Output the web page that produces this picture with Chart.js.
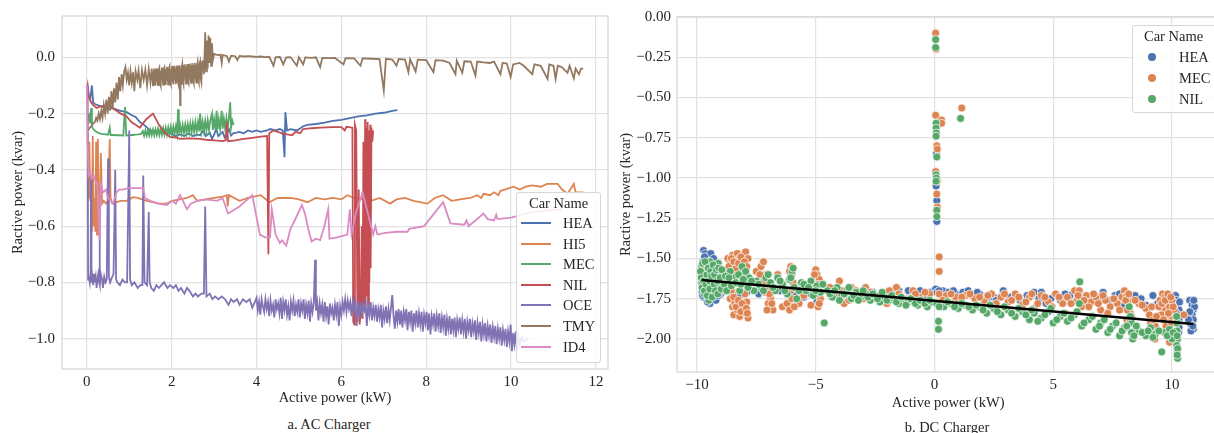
<!DOCTYPE html>
<html><head><meta charset="utf-8">
<script src="https://cdn.jsdelivr.net/npm/chart.js@4/dist/chart.umd.min.js"></script>
<style>
html,body{margin:0;padding:0;background:#fff;width:1214px;height:433px;overflow:hidden;position:relative;font-family:"Liberation Serif","Times New Roman",serif;color:#262626}
#c1{position:absolute;left:0;top:0}
#c2{position:absolute;left:610px;top:0}
.cap{position:absolute;font-size:14.5px;white-space:nowrap;transform:translate(-50%,-50%);line-height:1}
.leg{position:absolute;background:rgba(255,255,255,0.85);border:1px solid #d6d6d6;border-radius:3px;box-sizing:border-box}
.lt{position:absolute;font-size:14.5px;white-space:nowrap;line-height:1;transform:translateY(-50%)}
.ls{position:absolute;height:2px;width:30px;transform:translateY(-50%)}
.lm{position:absolute;width:8px;height:8px;border-radius:50%;transform:translate(-50%,-50%)}
</style></head><body>
<canvas id="c1" width="612" height="410"></canvas>
<canvas id="c2" width="614" height="415"></canvas>
<div id="ov"></div>
<script>
// ---------- AC charger (left) ----------
const acNames = ['HEA','HI5','MEC','NIL','OCE','TMY','ID4'];
const acColors = ['#4C72B0','#DD8452','#55A868','#C44E52','#8172B3','#937860','#DA8BC3'];
const acXTicks = [0,2,4,6,8,10,12];
const acYTicks = [0.0,-0.2,-0.4,-0.6,-0.8,-1.0];

const acHEA = [[0.03,-0.13],[0.08,-0.15],[0.12,-0.1],[0.15,-0.16],[0.2,-0.167],[0.3,-0.172],[0.4,-0.178],[0.5,-0.183],[0.6,-0.18],[0.7,-0.186],[0.8,-0.19],[0.94,-0.195],[1.05,-0.205],[1.15,-0.212],[1.25,-0.23],[1.35,-0.24],[1.49,-0.26],[1.6,-0.262],[1.7,-0.265],[1.8,-0.27],[1.89,-0.266],[2.0,-0.272],[2.1,-0.28],[2.2,-0.274],[2.3,-0.28],[2.4,-0.27],[2.5,-0.28],[2.6,-0.275],[2.67,-0.277],[2.75,-0.26],[2.8,-0.28],[2.9,-0.268],[2.95,-0.29],[3.0,-0.275],[3.05,-0.255],[3.1,-0.28],[3.2,-0.265],[3.25,-0.285],[3.3,-0.27],[3.35,-0.255],[3.4,-0.278],[3.45,-0.27],[3.6,-0.265],[3.7,-0.27],[3.8,-0.26],[3.9,-0.265],[4.0,-0.26],[4.1,-0.265],[4.25,-0.26],[4.32,-0.255],[4.45,-0.26],[4.55,-0.255],[4.62,-0.26],[4.66,-0.355],[4.68,-0.195],[4.72,-0.26],[4.8,-0.255],[4.96,-0.26],[5.1,-0.245],[5.2,-0.24],[5.4,-0.237],[5.6,-0.232],[5.8,-0.226],[6.0,-0.222],[6.2,-0.216],[6.4,-0.21],[6.6,-0.206],[6.8,-0.2],[7.0,-0.197],[7.2,-0.19],[7.32,-0.188]];
const acHI5 = [[0.02,-0.27],[0.04,-0.5],[0.06,-0.3],[0.08,-0.51],[0.1,-0.42],[0.12,-0.62],[0.14,-0.28],[0.16,-0.6],[0.18,-0.5],[0.2,-0.62],[0.22,-0.3],[0.24,-0.63],[0.26,-0.29],[0.28,-0.63],[0.3,-0.55],[0.33,-0.34],[0.36,-0.52],[0.4,-0.51],[0.45,-0.52],[0.5,-0.51],[0.54,-0.29],[0.56,-0.5],[0.6,-0.52],[0.7,-0.515],[0.8,-0.51],[0.94,-0.51],[1.0,-0.505],[1.09,-0.497],[1.2,-0.5],[1.3,-0.505],[1.41,-0.51],[1.55,-0.515],[1.7,-0.52],[1.89,-0.52],[2.0,-0.51],[2.2,-0.505],[2.36,-0.5],[2.5,-0.49],[2.6,-0.51],[2.8,-0.505],[3.0,-0.5],[3.2,-0.495],[3.3,-0.49],[3.32,-0.53],[3.35,-0.49],[3.6,-0.51],[3.8,-0.5],[4.1,-0.49],[4.3,-0.515],[4.5,-0.5],[4.8,-0.5],[5.0,-0.505],[5.2,-0.515],[5.4,-0.5],[5.6,-0.505],[5.8,-0.5],[6.0,-0.505],[6.14,-0.49],[6.3,-0.5],[6.5,-0.505],[6.7,-0.51],[6.9,-0.5],[7.15,-0.52],[7.3,-0.505],[7.5,-0.5],[7.7,-0.51],[8.03,-0.52],[8.2,-0.5],[8.4,-0.49],[8.6,-0.51],[8.8,-0.505],[9.04,-0.5],[9.2,-0.49],[9.3,-0.5],[9.35,-0.485],[9.5,-0.49],[9.6,-0.48],[9.7,-0.49],[9.75,-0.475],[9.85,-0.47],[10.06,-0.46],[10.2,-0.47],[10.35,-0.46],[10.5,-0.455],[10.7,-0.46],[10.85,-0.45],[11.1,-0.45],[11.2,-0.47],[11.33,-0.485],[11.48,-0.45],[11.52,-0.48],[11.7,-0.48]];
const acMEC = [[0.02,-0.2],[0.04,-0.22],[0.06,-0.21],[0.08,-0.235],[0.1,-0.18],[0.12,-0.245],[0.15,-0.255],[0.2,-0.262],[0.25,-0.267],[0.3,-0.27],[0.35,-0.272],[0.4,-0.273],[0.45,-0.274],[0.5,-0.275],[0.54,-0.25],[0.56,-0.276],[0.62,-0.276],[0.7,-0.277],[0.78,-0.277],[0.86,-0.278],[0.9,-0.177],[0.93,-0.278],[1.0,-0.277],[1.08,-0.276],[1.15,-0.275],[1.22,-0.274],[1.28,-0.272],[1.32,-0.262],[1.35,-0.279],[1.38,-0.26],[1.41,-0.278],[1.44,-0.259],[1.47,-0.278],[1.5,-0.258],[1.53,-0.277],[1.56,-0.257],[1.59,-0.277],[1.62,-0.256],[1.65,-0.276],[1.68,-0.254],[1.71,-0.276],[1.74,-0.253],[1.77,-0.275],[1.8,-0.252],[1.83,-0.275],[1.86,-0.25],[1.89,-0.274],[1.92,-0.249],[1.95,-0.273],[1.98,-0.247],[2.01,-0.273],[2.04,-0.246],[2.07,-0.272],[2.1,-0.244],[2.13,-0.271],[2.15,-0.185],[2.17,-0.27],[2.2,-0.242],[2.23,-0.27],[2.26,-0.24],[2.29,-0.269],[2.32,-0.238],[2.35,-0.268],[2.38,-0.237],[2.41,-0.267],[2.44,-0.235],[2.47,-0.266],[2.5,-0.233],[2.53,-0.265],[2.56,-0.231],[2.59,-0.264],[2.62,-0.23],[2.65,-0.263],[2.67,-0.2],[2.7,-0.262],[2.73,-0.228],[2.76,-0.261],[2.79,-0.226],[2.82,-0.26],[2.85,-0.224],[2.88,-0.259],[2.91,-0.223],[2.95,-0.2],[2.97,-0.258],[3.0,-0.221],[3.03,-0.257],[3.06,-0.19],[3.08,-0.256],[3.11,-0.22],[3.14,-0.255],[3.18,-0.19],[3.2,-0.254],[3.23,-0.218],[3.26,-0.253],[3.29,-0.216],[3.32,-0.252],[3.35,-0.215],[3.38,-0.16],[3.4,-0.25],[3.43,-0.225],[3.46,-0.24]];
const acNIL = [[0.0,-0.12],[0.02,-0.1],[0.05,-0.14],[0.1,-0.16],[0.15,-0.17],[0.23,-0.18],[0.3,-0.175],[0.4,-0.172],[0.54,-0.17],[0.6,-0.18],[0.7,-0.19],[0.8,-0.2],[0.94,-0.21],[1.05,-0.23],[1.15,-0.24],[1.25,-0.25],[1.4,-0.22],[1.56,-0.2],[1.7,-0.24],[1.85,-0.27],[1.96,-0.283],[2.1,-0.285],[2.2,-0.29],[2.4,-0.288],[2.67,-0.29],[2.8,-0.293],[3.0,-0.295],[3.2,-0.298],[3.28,-0.295],[3.3,-0.23],[3.33,-0.298],[3.5,-0.295],[3.7,-0.29],[3.9,-0.286],[4.1,-0.282],[4.25,-0.28],[4.28,-0.7],[4.3,-0.27],[4.4,-0.26],[4.6,-0.27],[4.84,-0.277],[4.92,-0.265],[5.03,-0.27],[5.1,-0.255],[5.3,-0.252],[5.5,-0.25],[5.8,-0.248],[6.0,-0.248],[6.08,-0.26],[6.12,-0.247],[6.26,-0.25],[6.28,-0.94],[6.31,-0.95],[6.32,-0.24],[6.35,-0.26],[6.38,-0.94],[6.41,-0.47],[6.43,-0.95],[6.46,-0.9],[6.48,-0.6],[6.5,-0.93],[6.52,-0.3],[6.54,-0.88],[6.56,-0.22],[6.57,-0.9],[6.59,-0.25],[6.6,-0.85],[6.62,-0.23],[6.63,-0.88],[6.65,-0.26],[6.66,-0.8],[6.68,-0.24],[6.69,-0.75],[6.71,-0.25],[6.73,-0.3],[6.75,-0.26]];
const acOCE = [[0.02,-0.1],[0.03,-0.79],[0.05,-0.78],[0.07,-0.8],[0.09,-0.76],[0.1,-0.43],[0.11,-0.8],[0.13,-0.78],[0.15,-0.81],[0.17,-0.77],[0.19,-0.8],[0.21,-0.78],[0.23,-0.82],[0.25,-0.79],[0.27,-0.77],[0.29,-0.8],[0.3,-0.52],[0.31,-0.81],[0.33,-0.77],[0.36,-0.79],[0.38,-0.82],[0.41,-0.78],[0.44,-0.8],[0.47,-0.79],[0.5,-0.36],[0.52,-0.78],[0.55,-0.8],[0.6,-0.78],[0.63,-0.77],[0.67,-0.4],[0.69,-0.79],[0.72,-0.8],[0.78,-0.81],[0.84,-0.79],[0.9,-0.8],[0.95,-0.8],[1.0,-0.26],[1.02,-0.79],[1.06,-0.81],[1.12,-0.8],[1.2,-0.82],[1.26,-0.81],[1.31,-0.81],[1.33,-0.42],[1.36,-0.8],[1.42,-0.81],[1.46,-0.55],[1.48,-0.8],[1.52,-0.82],[1.58,-0.83],[1.64,-0.81],[1.7,-0.82],[1.76,-0.81],[1.82,-0.8],[1.9,-0.82],[1.96,-0.81],[2.04,-0.82],[2.1,-0.81],[2.16,-0.83],[2.22,-0.82],[2.3,-0.84],[2.36,-0.82],[2.42,-0.83],[2.5,-0.85],[2.56,-0.84],[2.62,-0.85],[2.7,-0.84],[2.76,-0.84],[2.79,-0.53],[2.82,-0.85],[2.9,-0.84],[2.96,-0.86],[3.02,-0.85],[3.1,-0.86],[3.18,-0.85],[3.26,-0.86],[3.34,-0.88],[3.4,-0.86],[3.46,-0.87],[3.54,-0.86],[3.6,-0.88],[3.68,-0.86],[3.76,-0.87],[3.84,-0.86],[3.9,-0.89],[3.96,-0.87],
[4.00,-0.855],[4.03,-0.9],[4.06,-0.87],[4.09,-0.915],[4.12,-0.86],[4.15,-0.885],[4.18,-0.905],[4.21,-0.86],[4.24,-0.895],[4.27,-0.87],[4.30,-0.92],[4.33,-0.865],[4.36,-0.9],[4.39,-0.88],[4.42,-0.925],[4.45,-0.86],[4.48,-0.895],[4.51,-0.875],[4.54,-0.91],[4.57,-0.855],[4.60,-0.93],[4.63,-0.87],[4.66,-0.9],[4.69,-0.86],[4.72,-0.915],[4.75,-0.885],[4.78,-0.935],[4.81,-0.87],[4.84,-0.9],[4.87,-0.865],[4.90,-0.92],[4.93,-0.88],[4.96,-0.905],[4.99,-0.86],[5.02,-0.925],[5.05,-0.875],[5.08,-0.9],[5.11,-0.86],[5.14,-0.93],[5.17,-0.88],[5.20,-0.91],[5.23,-0.865],[5.26,-0.94],[5.29,-0.875],[5.32,-0.905],[5.35,-0.87],[5.38,-0.72],[5.40,-0.9],[5.43,-0.87],[5.46,-0.935],[5.49,-0.875],[5.52,-0.91],[5.55,-0.88],[5.58,-0.94],[5.61,-0.87],[5.64,-0.92],[5.67,-0.885],[5.70,-0.95],[5.73,-0.875],[5.76,-0.91],[5.79,-0.89],[5.82,-0.935],[5.85,-0.88],[5.88,-0.915],[5.91,-0.87],[5.94,-0.955],[5.97,-0.885],[6.00,-0.915],[6.03,-0.87],[6.06,-0.9],[6.09,-0.86],[6.12,-0.905],[6.15,-0.865],[6.18,-0.895],[6.21,-0.87],[6.24,-0.92],[6.27,-0.865],[6.30,-0.9],[6.33,-0.875],[6.36,-0.955],[6.39,-0.88],[6.42,-0.91],[6.45,-0.87],[6.48,-0.925],[6.51,-0.88],[6.54,-0.9],[6.57,-0.875],[6.60,-0.955],[6.63,-0.885],[6.66,-0.915],[6.69,-0.87],[6.72,-0.935],[6.75,-0.89],[6.78,-0.92],[6.81,-0.88],[6.84,-0.94],[6.87,-0.895],[6.90,-0.925],[6.93,-0.88],[6.96,-0.96],[6.99,-0.9],[7.02,-0.93],[7.05,-0.885],[7.08,-0.945],[7.11,-0.895],[7.14,-0.935],[7.17,-0.89],[7.20,-0.845],[7.23,-0.92],[7.26,-0.965],[7.29,-0.9],[7.32,-0.94],[7.35,-0.895],[7.38,-0.95],[7.41,-0.9],[7.44,-0.96],[7.47,-0.905],[7.50,-0.935],[7.53,-0.895],[7.56,-0.97],[7.59,-0.905],[7.62,-0.94],[7.65,-0.9],[7.68,-0.975],[7.71,-0.91],[7.74,-0.945],[7.77,-0.9],[7.80,-0.96],[7.83,-0.91],[7.86,-0.95],[7.89,-0.905],[7.92,-0.975],[7.95,-0.915],[7.98,-0.945],[8.01,-0.905],[8.04,-0.97],[8.07,-0.91],[8.10,-0.985],[8.13,-0.92],[8.16,-0.95],[8.19,-0.91],[8.22,-0.975],[8.25,-0.92],[8.28,-0.955],[8.31,-0.91],[8.34,-0.98],[8.37,-0.925],[8.40,-0.96],[8.43,-0.915],[8.46,-0.99],[8.49,-0.93],[8.52,-0.965],[8.55,-0.92],[8.58,-0.985],[8.61,-0.93],[8.64,-0.97],[8.67,-0.925],[8.70,-0.995],[8.73,-0.935],[8.76,-0.965],[8.79,-0.925],[8.82,-0.985],[8.85,-0.935],[8.88,-0.975],[8.91,-0.93],[8.94,-1.0],[8.97,-0.94],[9.00,-0.97],[9.03,-0.93],[9.06,-0.995],[9.09,-0.945],[9.12,-0.975],[9.15,-0.935],[9.18,-1.005],[9.21,-0.945],[9.24,-0.98],[9.27,-0.94],[9.30,-1.01],[9.33,-0.95],[9.36,-0.985],[9.39,-0.945],[9.42,-1.01],[9.45,-0.955],[9.48,-0.99],[9.51,-0.95],[9.54,-1.015],[9.57,-0.96],[9.60,-0.995],[9.63,-0.955],[9.66,-1.02],[9.69,-0.965],[9.72,-1.0],[9.75,-0.96],[9.78,-1.025],[9.81,-0.97],[9.84,-1.005],[9.87,-0.965],[9.90,-1.03],[9.93,-0.975],[9.96,-1.01],[9.99,-0.95],[10.02,-1.045],[10.05,-0.98],[10.08,-1.02],[10.11,-0.975],[10.14,-1.04],[10.17,-0.99],[10.20,-1.02],[10.25,-0.995],[10.3,-1.01],[10.4,-1.0]];
const acTMY = [[0.03,-0.26],[0.07,-0.25],[0.11,-0.245],[0.15,-0.235],[0.19,-0.23],[0.22,-0.215],[0.25,-0.225],[0.28,-0.2],[0.31,-0.22],[0.34,-0.19],[0.37,-0.215],[0.4,-0.17],[0.43,-0.2],[0.46,-0.15],[0.49,-0.2],[0.52,-0.14],[0.55,-0.19],[0.58,-0.12],[0.61,-0.18],[0.64,-0.11],[0.67,-0.16],[0.7,-0.09],[0.73,-0.15],[0.76,-0.07],[0.79,-0.12],[0.82,-0.06],[0.85,-0.1],[0.88,-0.05],[0.91,-0.035],[0.94,-0.08],[0.97,-0.055],[1.0,-0.1],[1.03,-0.05],[1.06,-0.09],[1.09,-0.053],[1.12,-0.12],[1.15,-0.05],[1.19,-0.08],[1.22,-0.047],[1.26,-0.11],[1.3,-0.045],[1.34,-0.08],[1.38,-0.044],[1.42,-0.1],[1.46,-0.042],[1.5,-0.09],[1.53,-0.04],[1.56,-0.1],[1.575,-0.06],[1.59,-0.04],[1.605,-0.085],[1.62,-0.1],[1.635,-0.05],[1.65,-0.039],[1.665,-0.08],[1.68,-0.099],[1.695,-0.045],[1.71,-0.038],[1.725,-0.09],[1.74,-0.099],[1.755,-0.05],[1.77,-0.036],[1.785,-0.07],[1.8,-0.098],[1.815,-0.04],[1.83,-0.035],[1.845,-0.085],[1.86,-0.098],[1.875,-0.045],[1.89,-0.034],[1.905,-0.075],[1.92,-0.097],[1.935,-0.04],[1.95,-0.033],[1.965,-0.09],[1.98,-0.097],[1.995,-0.05],[2.01,-0.031],[2.025,-0.08],[2.04,-0.096],[2.055,-0.04],[2.07,-0.03],[2.085,-0.07],[2.1,-0.095],[2.115,-0.045],[2.13,-0.029],[2.145,-0.085],[2.16,-0.095],[2.175,-0.04],[2.19,-0.028],[2.2,-0.17],[2.21,-0.06],[2.22,-0.094],[2.235,-0.04],[2.25,-0.026],[2.265,-0.08],[2.28,-0.093],[2.295,-0.035],[2.31,-0.025],[2.325,-0.07],[2.34,-0.093],[2.355,-0.04],[2.37,-0.024],[2.385,-0.085],[2.4,-0.092],[2.415,-0.03],[2.43,-0.022],[2.445,-0.075],[2.46,-0.091],[2.475,-0.035],[2.49,-0.021],[2.505,-0.08],[2.52,-0.09],[2.535,-0.03],[2.55,-0.02],[2.565,-0.07],[2.58,-0.09],[2.595,-0.03],[2.61,-0.018],[2.625,-0.08],[2.64,-0.089],[2.655,-0.025],[2.67,-0.016],[2.685,-0.075],[2.7,-0.088],[2.715,-0.02],[2.73,-0.01],[2.76,-0.06],[2.78,0.03],[2.79,0.089],[2.81,-0.05],[2.83,0.06],[2.85,-0.04],[2.87,0.078],[2.89,-0.02],[2.91,0.07],[2.93,-0.03],[2.95,0.05],[2.97,-0.01],[3.0,0.012],[3.05,0.01],[3.1,0.008],[3.15,0.01],[3.18,-0.02],[3.2,0.008],[3.3,0.005],[3.35,-0.015],[3.4,0.006],[3.5,0.004],[3.55,-0.01],[3.6,0.005],[3.7,0.003],[3.8,0.004],[3.9,0.003],[4.0,0.002],[4.1,0.003],[4.2,0.001],[4.3,0.002],[4.4,-0.03],[4.45,0.0],[4.55,0.002],[4.63,-0.025],[4.7,0.0],[4.8,0.001],[4.95,-0.03],[5.0,0.0],[5.1,-0.025],[5.15,0.0],[5.3,-0.002],[5.4,0.0],[5.5,-0.035],[5.55,-0.002],[5.7,-0.003],[5.85,-0.002],[6.05,-0.025],[6.1,-0.003],[6.3,-0.004],[6.45,-0.03],[6.5,-0.004],[6.7,-0.005],[6.9,-0.006],[7.0,-0.118],[7.05,-0.005],[7.2,-0.008],[7.3,-0.03],[7.35,-0.006],[7.5,-0.008],[7.58,-0.053],[7.62,-0.007],[7.75,-0.05],[7.8,-0.008],[8.0,-0.01],[8.17,-0.053],[8.22,-0.01],[8.4,-0.012],[8.55,-0.02],[8.69,-0.06],[8.72,-0.012],[8.85,-0.055],[8.9,-0.014],[9.05,-0.015],[9.16,-0.065],[9.2,-0.015],[9.35,-0.018],[9.5,-0.02],[9.6,-0.015],[9.75,-0.06],[9.8,-0.02],[9.9,-0.022],[9.99,-0.07],[10.05,-0.025],[10.2,-0.02],[10.3,-0.03],[10.5,-0.06],[10.55,-0.025],[10.7,-0.03],[10.86,-0.077],[10.9,-0.025],[11.0,-0.03],[11.05,-0.077],[11.1,-0.03],[11.2,-0.035],[11.33,-0.055],[11.38,-0.03],[11.48,-0.075],[11.52,-0.04],[11.6,-0.06],[11.65,-0.04],[11.7,-0.04]];
const acID4 = [[0.0,-0.1],[0.02,-0.3],[0.04,-0.42],[0.08,-0.41],[0.12,-0.43],[0.16,-0.42],[0.2,-0.44],[0.25,-0.45],[0.3,-0.65],[0.33,-0.45],[0.38,-0.48],[0.45,-0.47],[0.5,-0.5],[0.56,-0.51],[0.62,-0.52],[0.66,-0.5],[0.7,-0.48],[0.76,-0.47],[0.85,-0.47],[0.97,-0.465],[1.15,-0.465],[1.33,-0.465],[1.37,-0.5],[1.5,-0.51],[1.7,-0.52],[1.89,-0.525],[2.0,-0.51],[2.1,-0.52],[2.2,-0.49],[2.36,-0.54],[2.45,-0.52],[2.6,-0.51],[2.8,-0.505],[3.07,-0.51],[3.2,-0.5],[3.33,-0.555],[3.6,-0.53],[3.9,-0.49],[4.08,-0.63],[4.2,-0.64],[4.32,-0.64],[4.36,-0.54],[4.45,-0.63],[4.55,-0.66],[4.6,-0.65],[4.7,-0.67],[4.8,-0.61],[4.9,-0.58],[5.07,-0.525],[5.15,-0.56],[5.22,-0.61],[5.3,-0.655],[5.4,-0.645],[5.5,-0.65],[5.6,-0.6],[5.69,-0.54],[5.72,-0.645],[5.9,-0.64],[6.14,-0.63],[6.2,-0.54],[6.24,-0.63],[6.35,-0.55],[6.5,-0.48],[6.75,-0.63],[6.8,-0.6],[6.85,-0.63],[7.0,-0.625],[7.3,-0.62],[7.56,-0.62],[7.6,-0.61],[7.95,-0.6],[8.4,-0.515],[8.57,-0.59],[8.9,-0.595],[8.95,-0.58],[9.0,-0.6],[9.35,-0.555],[9.45,-0.575],[9.6,-0.58],[9.65,-0.56],[9.68,-0.575],[10.0,-0.57],[10.5,-0.55],[11.2,-0.54]];
const acSeries = [acHEA, acHI5, acMEC, acNIL, acOCE, acTMY, acID4];

// ---------- DC charger (right) ----------
const dcNames = ['HEA','MEC','NIL'];
const dcColors = ['#4C72B0','#DD8452','#55A868'];
const dcXTicks = [-10,-5,0,5,10];
const dcYTicks = [0,-0.25,-0.5,-0.75,-1.0,-1.25,-1.5,-1.75,-2.0];
const dcHEA = [[-9.72,-1.45],[-9.65,-1.47],[-9.42,-1.47],[-9.3,-1.5],[-9.75,-1.52],[-9.7,-1.56],[-9.78,-1.6],[-9.75,-1.64],[-9.7,-1.68],[-9.78,-1.71],[-9.72,-1.74],[-9.6,-1.72],[-9.5,-1.75],[-9.45,-1.78],[-9.2,-1.76],[-9.0,-1.72],[-8.8,-1.7],[-8.5,-1.72],[-7.9,-1.71],[-7.4,-1.72],[-6.5,-1.7],[-5.9,-1.72],[-5.5,-1.74],[-4.95,-1.77],[-4.2,-1.72],[-3.6,-1.7],[-3.0,-1.72],[-2.6,-1.71],[-2.0,-1.73],[-1.5,-1.7],[-1.1,-1.7],[-0.8,-1.71],[-0.4,-1.73],[-0.15,-1.71],[0.08,-0.85],[0.07,-1.05],[0.1,-1.14],[0.1,-1.27],[0.05,-1.69],[0.1,-1.71],[0.35,-1.7],[0.6,-1.71],[0.9,-1.72],[1.2,-1.71],[1.42,-1.7],[1.6,-1.73],[1.9,-1.72],[2.3,-1.74],[2.5,-1.74],[2.6,-1.76],[2.9,-1.72],[3.2,-1.74],[3.6,-1.76],[3.9,-1.73],[4.2,-1.71],[4.4,-1.75],[4.7,-1.78],[4.9,-1.75],[5.3,-1.76],[5.7,-1.73],[6.0,-1.72],[6.4,-1.77],[6.7,-1.73],[7.1,-1.71],[7.3,-1.76],[7.6,-1.73],[8.0,-1.79],[8.45,-1.73],[8.9,-1.79],[9.2,-1.73],[9.6,-1.8],[9.9,-1.85],[10.15,-1.73],[10.2,-1.76],[10.25,-1.79],[10.3,-1.82],[10.25,-1.85],[10.3,-1.88],[10.25,-1.9],[10.3,-1.93],[10.6,-1.85],[10.75,-1.76],[10.85,-1.79],[10.9,-1.82],[10.85,-1.85],[10.9,-1.88],[10.8,-1.91],[10.9,-1.94],[10.7,-1.88],[10.95,-1.8],
[-9.82,-1.58],[-9.8,-1.66],[-9.76,-1.73],[-9.68,-1.49],[-9.55,-1.77],[-9.35,-1.74],[-9.1,-1.73],[-8.2,-1.73],[-6.9,-1.71],[-5.2,-1.72],[-3.3,-1.72],[-1.8,-1.72],[-0.6,-1.7],[0.2,-1.7],[0.8,-1.7],[1.8,-1.71],[2.9,-1.7],[3.4,-1.73],[4.5,-1.71],[5.5,-1.72],[6.2,-1.75],[6.9,-1.74],[7.8,-1.72],[8.2,-1.76],[8.7,-1.75],[9.4,-1.78],[9.75,-1.76],[10.18,-1.84],[10.28,-1.96],[10.32,-1.77],[10.75,-1.83],[10.8,-1.95],[10.92,-1.76],[10.88,-1.92]];
const dcMEC = [[-9.3,-1.62],[-9.1,-1.66],[-8.7,-1.5],[-8.6,-1.53],[-8.5,-1.48],[-8.4,-1.52],[-8.3,-1.47],[-8.2,-1.5],[-8.05,-1.48],[-7.95,-1.46],[-7.85,-1.5],[-8.6,-1.75],[-8.5,-1.8],[-8.45,-1.85],[-8.4,-1.78],[-8.3,-1.82],[-8.2,-1.86],[-8.05,-1.8],[-7.95,-1.84],[-7.9,-1.77],[-7.85,-1.87],[-8.1,-1.56],[-8.0,-1.6],[-7.5,-1.58],[-7.3,-1.55],[-7.2,-1.52],[-7.1,-1.6],[-7.0,-1.67],[-6.9,-1.75],[-7.0,-1.78],[-6.8,-1.82],[-7.15,-1.71],[-6.6,-1.6],[-6.4,-1.8],[-6.2,-1.78],[-6.05,-1.55],[-6.0,-1.6],[-5.95,-1.65],[-6.1,-1.82],[-5.7,-1.78],[-5.5,-1.73],[-5.2,-1.79],[-5.0,-1.57],[-4.95,-1.6],[-4.85,-1.63],[-4.9,-1.8],[-4.8,-1.75],[-4.4,-1.68],[-4.0,-1.64],[-3.8,-1.78],[-3.5,-1.68],[-3.2,-1.74],[-2.9,-1.68],[-2.5,-1.73],[-2.0,-1.78],[-1.6,-1.68],[-1.3,-1.75],[-0.9,-1.7],[-0.6,-1.74],[-0.2,-1.72],[0.05,-0.1],[0.07,-0.2],[0.05,-0.61],[0.3,-0.64],[0.3,-0.66],[1.15,-0.565],[0.1,-0.8],[0.12,-0.82],[0.05,-0.96],[0.12,-1.02],[0.1,-1.1],[0.12,-1.18],[0.08,-1.2],[0.2,-1.49],[0.2,-1.58],[0.2,-1.72],[0.5,-1.73],[0.9,-1.74],[1.0,-1.78],[1.3,-1.73],[1.7,-1.75],[2.0,-1.8],[2.1,-1.76],[2.4,-1.72],[2.8,-1.74],[3.0,-1.8],[3.1,-1.77],[3.4,-1.72],[3.7,-1.79],[4.0,-1.74],[4.2,-1.81],[4.5,-1.73],[4.8,-1.77],[5.1,-1.72],[5.4,-1.78],[5.5,-1.84],[5.6,-1.74],[5.9,-1.7],[6.0,-1.76],[6.1,-1.7],[6.2,-1.8],[6.4,-1.73],[6.6,-1.77],[6.8,-1.74],[7.0,-1.82],[7.2,-1.76],[7.4,-1.8],[7.7,-1.78],[7.9,-1.74],[8.0,-1.7],[8.1,-1.73],[8.15,-1.77],[8.2,-1.8],[8.25,-1.84],[8.1,-1.88],[8.3,-1.86],[8.6,-1.78],[8.9,-1.81],[9.1,-1.9],[9.2,-1.95],[9.25,-1.98],[9.3,-1.92],[9.5,-1.76],[9.6,-1.72],[9.7,-1.74],[9.8,-1.78],[9.7,-1.82],[9.9,-1.8],[10.0,-1.76],[9.55,-1.85],[9.8,-1.98],[9.9,-2.02],[10.0,-1.88],[10.1,-1.82],[10.5,-1.85],
[-8.65,-1.55],[-8.55,-1.5],[-8.5,-1.58],[-8.45,-1.52],[-8.35,-1.56],[-8.25,-1.53],[-8.15,-1.49],[-8.0,-1.52],[-7.9,-1.55],[-8.55,-1.7],[-8.45,-1.74],[-8.35,-1.8],[-8.25,-1.76],[-8.15,-1.83],[-8.1,-1.78],[-7.98,-1.72],[-7.92,-1.81],[-7.88,-1.84],[-7.35,-1.6],[-7.25,-1.65],[-7.1,-1.7],[-7.05,-1.82],[-6.95,-1.72],[-6.85,-1.78],[-6.1,-1.58],[-6.05,-1.7],[-6.0,-1.75],[-5.9,-1.8],[-5.05,-1.6],[-5.0,-1.68],[-4.95,-1.72],[-4.9,-1.66],[-4.85,-1.78],[-4.1,-1.72],[-3.9,-1.7],[-3.6,-1.76],[-3.3,-1.7],[-3.0,-1.75],[-2.7,-1.71],[-2.3,-1.74],[-1.9,-1.7],[-1.5,-1.72],[-1.1,-1.75],[-0.8,-1.72],[-0.4,-1.71],[0.35,-1.76],[0.7,-1.72],[1.15,-1.74],[1.5,-1.72],[1.9,-1.74],[2.25,-1.73],[2.6,-1.78],[2.95,-1.72],[3.25,-1.76],[3.55,-1.74],[3.85,-1.77],[4.1,-1.72],[4.35,-1.78],[4.65,-1.74],[4.95,-1.8],[5.25,-1.74],[5.75,-1.78],[6.05,-1.73],[6.3,-1.76],[6.5,-1.8],[6.7,-1.72],[6.9,-1.78],[7.1,-1.73],[7.3,-1.84],[7.55,-1.75],[7.8,-1.82],[8.05,-1.76],[8.12,-1.82],[8.18,-1.72],[8.22,-1.9],[8.45,-1.76],[8.75,-1.79],[9.05,-1.85],[9.15,-1.8],[9.22,-1.88],[9.28,-2.0],[9.35,-1.86],[9.45,-1.8],[9.58,-1.78],[9.65,-1.88],[9.72,-1.76],[9.75,-1.92],[9.82,-1.72],[9.85,-1.84],[9.88,-1.96],[9.95,-1.74],[9.98,-1.9],[10.05,-1.8],[10.02,-2.0]];
const dcNIL = [[-9.8,-1.55],[-9.75,-1.6],[-9.8,-1.65],[-9.7,-1.58],[-9.65,-1.62],[-9.6,-1.55],[-9.55,-1.68],[-9.5,-1.6],[-9.45,-1.52],[-9.4,-1.65],[-9.35,-1.58],[-9.3,-1.7],[-9.25,-1.55],[-9.2,-1.62],[-9.1,-1.53],[-9.05,-1.6],[-9.0,-1.66],[-9.7,-1.72],[-9.5,-1.76],[-9.3,-1.63],[-9.15,-1.68],[-8.9,-1.6],[-8.7,-1.65],[-8.6,-1.58],[-8.4,-1.62],[-8.2,-1.7],[-8.1,-1.55],[-8.0,-1.6],[-7.9,-1.65],[-7.8,-1.62],[-7.6,-1.7],[-7.5,-1.64],[-7.3,-1.68],[-7.1,-1.62],[-6.9,-1.65],[-6.7,-1.7],[-6.6,-1.62],[-6.4,-1.66],[-6.2,-1.72],[-6.1,-1.63],[-6.0,-1.58],[-5.9,-1.68],[-5.8,-1.75],[-5.6,-1.65],[-5.4,-1.7],[-5.2,-1.64],[-5.1,-1.73],[-4.95,-1.67],[-4.8,-1.71],[-4.64,-1.9],[-4.5,-1.7],[-4.3,-1.74],[-4.1,-1.68],[-3.9,-1.73],[-3.7,-1.7],[-3.5,-1.75],[-3.3,-1.71],[-3.1,-1.74],[-2.9,-1.72],[-2.7,-1.76],[-2.5,-1.73],[-2.3,-1.77],[-2.1,-1.74],[-1.9,-1.76],[-1.7,-1.75],[-1.5,-1.78],[-1.3,-1.75],[-1.1,-1.77],[-0.9,-1.76],[-0.7,-1.79],[-0.5,-1.77],[-0.3,-1.8],[-0.1,-1.77],[0.05,-0.14],[0.05,-0.19],[0.07,-0.66],[0.07,-0.69],[0.08,-0.72],[0.07,-0.74],[0.1,-0.87],[0.07,-0.98],[0.08,-1.0],[0.07,-1.02],[0.1,-1.2],[0.1,-1.24],[1.1,-0.63],[0.17,-1.89],[0.17,-1.94],[0.1,-1.78],[0.4,-1.8],[0.7,-1.78],[1.0,-1.81],[1.3,-1.79],[1.6,-1.82],[1.9,-1.8],[2.2,-1.84],[2.5,-1.81],[2.8,-1.85],[3.1,-1.82],[3.4,-1.86],[3.7,-1.83],[4.0,-1.88],[4.2,-1.84],[4.5,-1.87],[4.8,-1.83],[5.0,-1.9],[5.3,-1.86],[5.6,-1.89],[5.9,-1.85],[6.12,-1.645],[6.1,-1.78],[6.2,-1.92],[6.5,-1.88],[6.8,-1.94],[7.0,-1.9],[7.3,-1.96],[7.5,-1.92],[7.8,-1.98],[8.0,-1.93],[8.2,-1.8],[8.3,-1.9],[8.35,-2.0],[8.6,-1.95],[8.9,-1.98],[9.1,-1.93],[9.3,-1.97],[9.57,-2.08],[9.7,-1.96],[9.9,-1.94],[10.2,-1.9],[10.22,-1.95],[10.24,-2.0],[10.2,-2.04],[10.22,-2.08],[10.24,-2.12],[10.0,-2.0],
[-9.85,-1.58],[-9.82,-1.62],[-9.78,-1.68],[-9.76,-1.53],[-9.72,-1.64],[-9.68,-1.7],[-9.66,-1.52],[-9.62,-1.66],[-9.58,-1.6],[-9.56,-1.73],[-9.52,-1.56],[-9.48,-1.64],[-9.46,-1.69],[-9.42,-1.58],[-9.38,-1.61],[-9.36,-1.74],[-9.32,-1.54],[-9.28,-1.66],[-9.26,-1.6],[-9.22,-1.7],[-9.18,-1.57],[-9.14,-1.64],[-9.12,-1.72],[-9.08,-1.56],[-9.02,-1.62],[-8.98,-1.69],[-8.95,-1.57],[-8.85,-1.66],[-8.8,-1.61],[-8.75,-1.7],[-8.65,-1.62],[-8.55,-1.67],[-8.35,-1.65],[-8.25,-1.6],[-8.15,-1.66],[-8.05,-1.63],[-7.95,-1.58],[-7.85,-1.68],[-7.7,-1.64],[-7.4,-1.66],[-7.2,-1.7],[-7.0,-1.6],[-6.8,-1.68],[-6.5,-1.64],[-6.3,-1.7],[-6.05,-1.62],[-5.95,-1.56],[-5.7,-1.7],[-5.5,-1.66],[-5.3,-1.68],[-5.0,-1.7],[-4.7,-1.66],[-4.4,-1.72],[-4.2,-1.7],[-4.0,-1.76],[-3.8,-1.72],[-3.6,-1.68],[-3.4,-1.73],[-3.2,-1.76],[-3.0,-1.7],[-2.8,-1.74],[-2.6,-1.72],[-2.4,-1.75],[-2.2,-1.71],[-2.0,-1.76],[-1.8,-1.73],[-1.6,-1.77],[-1.4,-1.74],[-1.2,-1.79],[-1.0,-1.75],[-0.8,-1.78],[-0.6,-1.76],[-0.4,-1.78],[-0.2,-1.76],[0.2,-1.8],[0.55,-1.77],[0.85,-1.8],[1.15,-1.78],[1.45,-1.8],[1.75,-1.79],[2.05,-1.82],[2.35,-1.79],[2.65,-1.83],[2.95,-1.8],[3.25,-1.84],[3.55,-1.81],[3.85,-1.85],[4.1,-1.82],[4.35,-1.89],[4.65,-1.85],[4.9,-1.81],[5.15,-1.88],[5.45,-1.84],[5.75,-1.87],[6.0,-1.83],[6.3,-1.9],[6.65,-1.86],[6.95,-1.92],[7.15,-1.88],[7.4,-1.94],[7.65,-1.9],[7.9,-1.95],[8.1,-1.92],[8.25,-1.86],[8.3,-1.96],[8.4,-1.98],[8.5,-1.92],[8.75,-1.96],[9.0,-1.95],[9.2,-1.99],[9.45,-1.95],[9.8,-1.98],[10.05,-1.96],[10.2,-1.86],[10.22,-1.98],[10.24,-2.06],[10.22,-2.1]];
const dcFit = [[-9.8,-1.634],[10.9,-1.907]];

// ---------- rendering ----------
const FONT = "'Liberation Serif','Times New Roman',serif";
const TXT = '#262626';
const GRID = '#e2e2e2';
const minus = s => String(s).replace('-', '\u2212');

const framePlugin = { id:'frame', beforeDatasetsDraw(c){ const a=c.chartArea, x=c.ctx; x.save(); x.strokeStyle='#d4d4d4'; x.lineWidth=1.2; x.strokeRect(a.left,a.top,a.right-a.left,a.bottom-a.top); x.restore(); } };

function axes(o){
  return {
    x:{type:'linear',min:o.xmin,max:o.xmax,
      afterFit:s=>{s.height=o.xh;},
      afterBuildTicks:s=>{s.ticks=o.xt.map(v=>({value:v}));},
      grid:{color:GRID,lineWidth:1.2,drawTicks:false},border:{display:false},
      ticks:{padding:4,color:TXT,font:{family:FONT,size:15},callback:v=>minus(v),maxRotation:0},
      title:{display:true,text:'Active power (kW)',color:TXT,font:{family:FONT,size:14.5},padding:{top:0,bottom:o.xtp}}},
    y:{type:'linear',min:o.ymin,max:o.ymax,
      afterFit:s=>{s.width=o.yw;},
      afterBuildTicks:s=>{s.ticks=o.yt.map(v=>({value:v}));},
      grid:{color:GRID,lineWidth:1.2,drawTicks:false},border:{display:false},
      ticks:{padding:o.ytpad,color:TXT,font:{family:FONT,size:15},callback:v=>minus(Number(v).toFixed(o.dec))},
      title:{display:true,text:'Ractive power (kvar)',color:TXT,font:{family:FONT,size:14.5},padding:{top:o.ytp,bottom:0}}}
  };
}

new Chart(document.getElementById('c1'),{
  type:'line',
  data:{datasets:acSeries.map((d,i)=>({label:acNames[i],data:d,borderColor:acColors[i],backgroundColor:acColors[i],borderWidth:1.8,pointRadius:0,tension:0,order:acNames.length-i}))},
  options:{responsive:false,animation:false,parsing:true,
    layout:{padding:{top:14,right:4,left:0,bottom:0}},
    plugins:{legend:{display:false},tooltip:{enabled:false}},
    scales:axes({xmin:-0.585,xmax:12.285,ymin:-1.108,ymax:0.147,xt:acXTicks,yt:acYTicks,xh:41,yw:62,xtp:3,ytp:9,ytpad:7,dec:1})},
  plugins:[framePlugin]
});

const dcSeries=[dcHEA,dcMEC,dcNIL];
new Chart(document.getElementById('c2'),{
  type:'scatter',
  data:{datasets:dcSeries.map((d,i)=>({label:dcNames[i],data:d,backgroundColor:dcColors[i],borderColor:'rgba(255,255,255,0.9)',borderWidth:0.8,pointRadius:4,order:dcNames.length-i+1}))
    .concat([{label:'fit',data:dcFit,showLine:true,borderColor:'#000',borderWidth:2.6,pointRadius:0,order:0}])},
  options:{responsive:false,animation:false,
    layout:{padding:{top:17,right:1,left:0,bottom:0}},
    plugins:{legend:{display:false},tooltip:{enabled:false}},
    scales:axes({xmin:-10.84,xmax:11.99,ymin:-2.205,ymax:0.0,xt:dcXTicks,yt:dcYTicks,xh:43,yw:67,xtp:3,ytp:7,ytpad:6,dec:2})},
  plugins:[framePlugin]
});

// ---------- overlays: legends & captions ----------
const ov=document.getElementById('ov');
function el(cls,css,text){const d=document.createElement('div');d.className=cls;Object.assign(d.style,css);if(text)d.textContent=text;ov.appendChild(d);return d;}
el('leg',{left:'516px',top:'192px',width:'85px',height:'171px'});
el('lt',{left:'529px',top:'203px'},'Car Name');
acNames.forEach((n,i)=>{const y=223+i*20.6;el('ls',{left:'521px',top:y+'px',background:acColors[i]});el('lt',{left:'563px',top:y+'px'},n);});
el('leg',{left:'1132px',top:'25px',width:'92px',height:'88px'});
el('lt',{left:'1144px',top:'36px'},'Car Name');
dcNames.forEach((n,i)=>{const y=57+i*21;el('lm',{left:'1152px',top:y+'px',background:dcColors[i]});el('lt',{left:'1179px',top:y+'px'},n);});
el('cap',{left:'329px',top:'424px'},'a. AC Charger');
el('cap',{left:'947px',top:'427px'},'b. DC Charger');
</script>
</body></html>
